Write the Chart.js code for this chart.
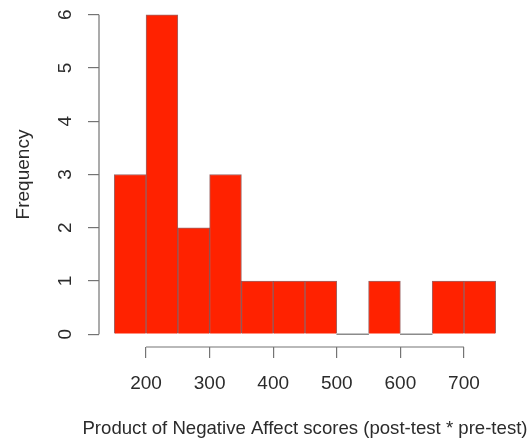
<!DOCTYPE html>
<html>
<head>
<meta charset="utf-8">
<script src="https://cdn.jsdelivr.net/npm/chart.js@4"></script>
<style>
  html, body { margin: 0; padding: 0; background: #fff; }
  #wrap { width: 530px; height: 438px; }
</style>
</head>
<body>
<div id="wrap"><canvas id="hist"></canvas></div>
<script>
// histogram bins (width 50) and counts
const binStarts = [150, 200, 250, 300, 350, 400, 450, 500, 550, 600, 650, 700];
const binWidth = 50;
const counts = [3, 6, 2, 3, 1, 1, 1, 0, 1, 0, 1, 1];
const xTicks = [200, 300, 400, 500, 600, 700];
const yTicks = [0, 1, 2, 3, 4, 5, 6];
const xTitle = 'Product of Negative Affect scores (post-test * pre-test)';

const textColor = '#2b2b2b';
const axisColor = '#747474';
const fontFamily = "'Liberation Sans', Arial, sans-serif";
const font = { family: fontFamily, size: 19 };

// R style axes: line only spans first to last tick.
// The x title is drawn here too, Chart.js would squeeze it to the chart area width.
const rAxes = {
    id: 'rAxes',
    afterDraw(chart) {
        const { ctx, chartArea, scales } = chart;
        ctx.save();
        ctx.strokeStyle = axisColor;
        ctx.lineWidth = 1.2;
        ctx.beginPath();
        ctx.moveTo(scales.x.getPixelForValue(xTicks[0]), chartArea.bottom);
        ctx.lineTo(scales.x.getPixelForValue(xTicks[xTicks.length - 1]), chartArea.bottom);
        ctx.moveTo(chartArea.left, scales.y.getPixelForValue(yTicks[0]));
        ctx.lineTo(chartArea.left, scales.y.getPixelForValue(yTicks[yTicks.length - 1]));
        ctx.stroke();

        ctx.fillStyle = textColor;
        ctx.font = '18.6px ' + fontFamily;
        ctx.textAlign = 'center';
        ctx.textBaseline = 'alphabetic';
        ctx.fillText(xTitle, (chartArea.left + chartArea.right) / 2, chart.height - 4);
        ctx.restore();
    }
};

const points = binStarts.map((s, i) => ({ x: s + binWidth / 2, y: counts[i] }));

new Chart(document.getElementById('hist'), {
    type: 'bar',
    data: {
        datasets: [{
            data: points,
            backgroundColor: c => c.raw && c.raw.y === 0 ? 'rgba(90,90,90,0.7)' : '#ff2200',
            borderColor: 'rgba(90,0,0,0.6)',
            borderWidth: c => c.raw && c.raw.y === 0 ? 0 : 1,
            minBarLength: 1,
            barPercentage: 1,
            categoryPercentage: 1
        }]
    },
    options: {
        responsive: true,
        maintainAspectRatio: false,
        animation: false,
        layout: { padding: { top: 2, right: 19, left: 0, bottom: 0 } },
        plugins: { legend: { display: false }, tooltip: { enabled: false } },
        scales: {
            x: {
                type: 'linear',
                min: 126,
                max: 774,
                offset: false,
                afterBuildTicks: s => { s.ticks = xTicks.map(v => ({ value: v })); },
                afterFit: s => { s.height = 91; s.paddingLeft = 0; s.paddingRight = 0; },
                grid: { offset: false, drawOnChartArea: false, color: axisColor, lineWidth: 1.2, tickLength: 11 },
                border: { display: false },
                ticks: { color: textColor, font: font, padding: 14, maxRotation: 0 },
                title: { display: false }
            },
            y: {
                min: -0.24,
                max: 6.24,
                afterBuildTicks: s => { s.ticks = yTicks.map(v => ({ value: v })); },
                afterFit: s => { s.width = 99; s.paddingTop = 0; s.paddingBottom = 0; },
                grid: { drawOnChartArea: false, color: axisColor, lineWidth: 1.2, tickLength: 11 },
                border: { display: false },
                ticks: { color: textColor, font: font, padding: 17, minRotation: 90, maxRotation: 90, crossAlign: 'center' },
                title: {
                    display: true,
                    text: 'Frequency',
                    color: textColor,
                    font: font,
                    padding: { top: 12, bottom: 0 }
                }
            }
        }
    },
    plugins: [rAxes]
});
</script>
</body>
</html>
